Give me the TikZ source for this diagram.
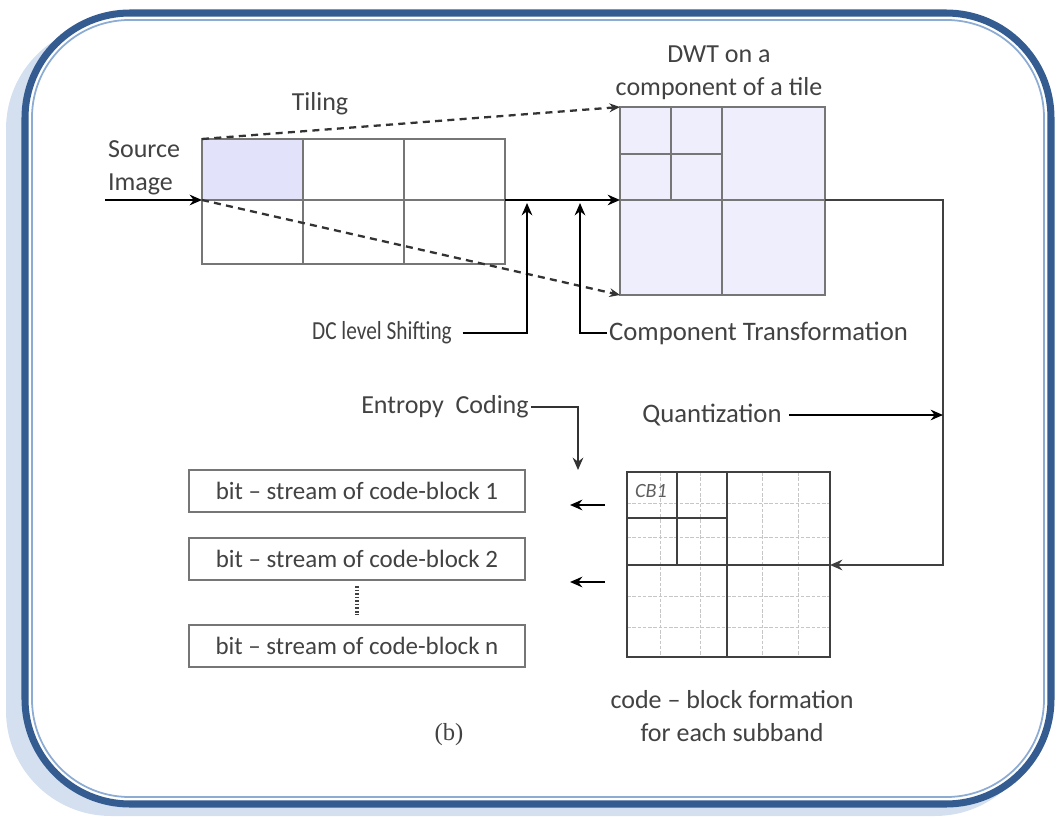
\documentclass[tikz,border=0pt]{standalone}
\usepackage{fontspec}
\setmainfont{Carlito}
\newfontfamily\capfont{Liberation Serif}
\usetikzlibrary{arrows.meta, positioning}
\definecolor{frameblue}{RGB}{52, 92, 144}
\definecolor{framelight}{RGB}{140, 172, 212}
\definecolor{shadowblue}{RGB}{212, 224, 240}
\definecolor{tilefill}{RGB}{226, 226, 250}
\definecolor{bandfill}{RGB}{238, 238, 252}
\definecolor{gridgray}{RGB}{118, 118, 118}
\definecolor{textgray}{RGB}{66, 66, 66}

\tikzset{
  lbl/.style={text=textgray, font=\fontsize{14.8}{18.5}\selectfont, inner sep=1pt},
  gridline/.style={gridgray, line width=1},
  cbline/.style={black!75, line width=1.1},
  dotgrid/.style={gray!45, line width=0.5, dash pattern=on 2pt off 1pt},
  flow/.style={->, >={Stealth[length=7pt, width=6pt]}, black, line width=1.2},
  tileflow/.style={->, >={Stealth[length=6pt, width=5pt]}, black!80, line width=1.3, dash pattern=on 4pt off 3pt},
  streambox/.style={draw=gridgray, line width=1, minimum width=67.2mm, minimum height=8.4mm,
    text=textgray, font=\fontsize{14.2}{16}\selectfont}
}

\begin{document}
\begin{tikzpicture}[x=0.2mm, y=-0.2mm]
  \useasboundingbox (0,0) rectangle (1063,818);

  % frame
  \fill[shadowblue, rounded corners=21mm] (6,24) rectangle (1040,816);
  \draw[frameblue, fill=white, line width=4, rounded corners=21mm] (25,13) rectangle (1051,804);
  \draw[framelight, line width=1, rounded corners=19.5mm] (32,20) rectangle (1044,797);

  % Tiling of the source image
  \fill[tilefill] (202,139) rectangle (303,200);
  \draw[gridline] (202,139) rectangle (505,264);
  \foreach \x in {303, 404} {
    \draw[gridline] (\x,139) -- (\x,264);
  }
  \draw[gridline] (202,200) -- (505,200);
  \coordinate (tile-tl) at (202,139);
  \coordinate (tile-ml) at (202,200);
  \coordinate (tile-mr) at (505,200);

  % DWT on one tile
  \draw[gridline, fill=bandfill] (620,107) rectangle (825,295);
  \draw[gridline] (671,107) -- (671,200);
  \draw[gridline] (620,154) -- (722,154);
  \draw[gridline] (722,107) -- (722,295);
  \draw[gridline] (620,200) -- (825,200);
  \coordinate (dwt-tl) at (620,107);
  \coordinate (dwt-ml) at (620,200);
  \coordinate (dwt-bl) at (620,295);
  \coordinate (dwt-mr) at (825,200);

  % code-blocks
  \foreach \x in {660, 700, 762, 798} {
    \draw[dotgrid] (\x,472) -- (\x,657);
  }
  \foreach \y in {503, 537, 596, 627} {
    \draw[dotgrid] (627,\y) -- (830,\y);
  }
  \draw[cbline] (627,472) rectangle (830,657);
  \draw[cbline] (727,472) -- (727,657);
  \draw[cbline] (627,565) -- (830,565);
  \draw[cbline] (677,472) -- (677,565);
  \draw[cbline] (627,518) -- (727,518);
  \coordinate (cb-mr) at (830,565);
  \node[text=textgray!85, font=\fontsize{11.5}{13}\selectfont\itshape, inner sep=0pt] (cb1) at (651,491) {CB1};

  % labels
  \node[lbl, align=left, anchor=west] (src) at (106,168) {Source\\Image};
  \node[lbl] (tiling) at (320,104) {Tiling};
  \node[lbl, align=center] (dwt) at (719,73) {DWT on a\\component of a tile};
  \node[lbl] (dcl) at (382,333) {\scalebox{0.82}[1]{DC level Shifting}};
  \node[lbl, anchor=west, font=\fontsize{15.2}{17}\selectfont] (comp) at (607,333) {Component Transformation};
  \node[lbl] (entropy) at (445,407) {Entropy\ \ Coding};
  \node[lbl, font=\fontsize{15.2}{17}\selectfont] (quant) at (712,415) {Quantization};
  \node[lbl, align=center] (cbf) at (732,716) {code -- block formation\\for each subband};
  \node[text=textgray, font=\capfont\fontsize{14}{16}\selectfont] (cap) at (449,735) {(b)};

  % bit-streams
  \node[streambox] (bs1) at (357,491) {bit -- stream of code-block 1};
  \node[streambox] (bs2) at (357,559) {bit -- stream of code-block 2};
  \node[streambox] (bsn) at (357,646) {bit -- stream of code-block n};
  \draw[black!75, line width=2, dash pattern=on 1pt off 1pt] ([yshift=-3pt]bs2.south) -- ([yshift=5.5pt]bsn.north);

  % flow
  \coordinate (src-in) at (105,200);
  \coordinate (dcl-up) at (527,203);
  \coordinate (comp-up) at (580,203);
  \coordinate (ent-down) at (578,470);
  \coordinate (q-top) at (943,200);
  \coordinate (q-bot) at (943,565);
  \draw[flow] (src-in) -- (tile-ml);
  \draw[flow] (tile-mr) -- (dwt-ml);
  \draw[tileflow] (tile-tl) -- (dwt-tl);
  \draw[tileflow] (tile-ml) -- (dwt-bl);
  \draw[flow] ([xshift=5pt]dcl.east) -| (dcl-up);
  \draw[flow] (comp.west) -| (comp-up);
  \draw[flow, black!80] (entropy.east) -| (ent-down);
  \draw[flow, black!75] (dwt-mr) -- (q-top) -- (q-bot) -- (cb-mr);
  \draw[flow] ([xshift=3pt]quant.east) -- (quant.east -| q-top);

  \coordinate (out1-s) at (605,505);
  \coordinate (out1-e) at (570,505);
  \coordinate (out2-s) at (605,582);
  \coordinate (out2-e) at (570,582);
  \draw[flow] (out1-s) -- (out1-e);
  \draw[flow] (out2-s) -- (out2-e);

\end{tikzpicture}
\end{document}
